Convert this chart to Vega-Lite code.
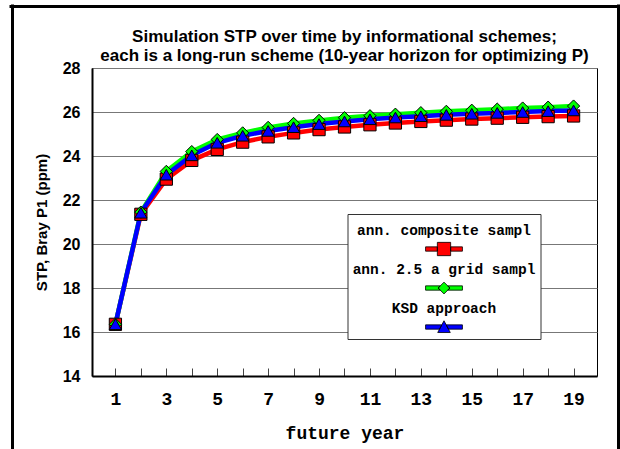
{
  "$schema": "https://vega.github.io/schema/vega-lite/v6.json",
  "width": 505,
  "height": 308,
  "autosize": {"type": "none"},
  "padding": {"left": 92, "top": 68, "right": 23, "bottom": 73},
  "background": "white",
  "title": {
    "text": ["Simulation STP over time by informational schemes;", "each is a long-run scheme (10-year horizon for optimizing P)"],
    "font": "Liberation Sans",
    "fontSize": 17,
    "fontWeight": "bold",
    "color": "black",
    "anchor": "middle",
    "frame": "group",
    "lineHeight": 18.5,
    "offset": -62
  },
  "data": {
    "values": [
      {"year": 1, "series": "ann. composite sampl", "stp": 16.35},
      {"year": 2, "series": "ann. composite sampl", "stp": 21.35},
      {"year": 3, "series": "ann. composite sampl", "stp": 22.95},
      {"year": 4, "series": "ann. composite sampl", "stp": 23.8},
      {"year": 5, "series": "ann. composite sampl", "stp": 24.3},
      {"year": 6, "series": "ann. composite sampl", "stp": 24.63},
      {"year": 7, "series": "ann. composite sampl", "stp": 24.87},
      {"year": 8, "series": "ann. composite sampl", "stp": 25.05},
      {"year": 9, "series": "ann. composite sampl", "stp": 25.2},
      {"year": 10, "series": "ann. composite sampl", "stp": 25.32},
      {"year": 11, "series": "ann. composite sampl", "stp": 25.42},
      {"year": 12, "series": "ann. composite sampl", "stp": 25.5},
      {"year": 13, "series": "ann. composite sampl", "stp": 25.57},
      {"year": 14, "series": "ann. composite sampl", "stp": 25.63},
      {"year": 15, "series": "ann. composite sampl", "stp": 25.68},
      {"year": 16, "series": "ann. composite sampl", "stp": 25.72},
      {"year": 17, "series": "ann. composite sampl", "stp": 25.76},
      {"year": 18, "series": "ann. composite sampl", "stp": 25.79},
      {"year": 19, "series": "ann. composite sampl", "stp": 25.82},
      {"year": 1, "series": "ann. 2.5 a grid sampl", "stp": 16.35},
      {"year": 2, "series": "ann. 2.5 a grid sampl", "stp": 21.45},
      {"year": 3, "series": "ann. 2.5 a grid sampl", "stp": 23.3},
      {"year": 4, "series": "ann. 2.5 a grid sampl", "stp": 24.2},
      {"year": 5, "series": "ann. 2.5 a grid sampl", "stp": 24.75},
      {"year": 6, "series": "ann. 2.5 a grid sampl", "stp": 25.05},
      {"year": 7, "series": "ann. 2.5 a grid sampl", "stp": 25.3},
      {"year": 8, "series": "ann. 2.5 a grid sampl", "stp": 25.48},
      {"year": 9, "series": "ann. 2.5 a grid sampl", "stp": 25.62},
      {"year": 10, "series": "ann. 2.5 a grid sampl", "stp": 25.74},
      {"year": 11, "series": "ann. 2.5 a grid sampl", "stp": 25.83},
      {"year": 12, "series": "ann. 2.5 a grid sampl", "stp": 25.9},
      {"year": 13, "series": "ann. 2.5 a grid sampl", "stp": 25.97},
      {"year": 14, "series": "ann. 2.5 a grid sampl", "stp": 26.03},
      {"year": 15, "series": "ann. 2.5 a grid sampl", "stp": 26.08},
      {"year": 16, "series": "ann. 2.5 a grid sampl", "stp": 26.13},
      {"year": 17, "series": "ann. 2.5 a grid sampl", "stp": 26.18},
      {"year": 18, "series": "ann. 2.5 a grid sampl", "stp": 26.22},
      {"year": 19, "series": "ann. 2.5 a grid sampl", "stp": 26.27},
      {"year": 1, "series": "KSD approach", "stp": 16.35},
      {"year": 2, "series": "KSD approach", "stp": 21.42},
      {"year": 3, "series": "KSD approach", "stp": 23.15},
      {"year": 4, "series": "KSD approach", "stp": 24.03},
      {"year": 5, "series": "KSD approach", "stp": 24.6},
      {"year": 6, "series": "KSD approach", "stp": 24.92},
      {"year": 7, "series": "KSD approach", "stp": 25.14},
      {"year": 8, "series": "KSD approach", "stp": 25.31},
      {"year": 9, "series": "KSD approach", "stp": 25.45},
      {"year": 10, "series": "KSD approach", "stp": 25.57},
      {"year": 11, "series": "KSD approach", "stp": 25.67},
      {"year": 12, "series": "KSD approach", "stp": 25.75},
      {"year": 13, "series": "KSD approach", "stp": 25.81},
      {"year": 14, "series": "KSD approach", "stp": 25.87},
      {"year": 15, "series": "KSD approach", "stp": 25.92},
      {"year": 16, "series": "KSD approach", "stp": 25.96},
      {"year": 17, "series": "KSD approach", "stp": 26.0},
      {"year": 18, "series": "KSD approach", "stp": 26.04},
      {"year": 19, "series": "KSD approach", "stp": 26.07}
    ]
  },
  "layer": [
    {
      "transform": [{"filter": "datum.series === 'ann. composite sampl'"}],
      "mark": {"type": "line", "color": "#FF0000", "strokeWidth": 4.5, "strokeJoin": "round", "strokeCap": "round"},
      "encoding": {
        "x": {"field": "year", "type": "quantitative", "scale": {"domain": [0.08, 19.92], "nice": false, "zero": false}, "axis": null},
        "y": {"field": "stp", "type": "quantitative", "scale": {"domain": [14, 28], "nice": false, "zero": false}, "axis": null}
      }
    },
    {
      "transform": [{"filter": "datum.series === 'ann. 2.5 a grid sampl'"}],
      "mark": {"type": "line", "color": "#00FF00", "strokeWidth": 4.5, "strokeJoin": "round", "strokeCap": "round"},
      "encoding": {
        "x": {"field": "year", "type": "quantitative", "axis": null},
        "y": {"field": "stp", "type": "quantitative", "axis": null}
      }
    },
    {
      "transform": [{"filter": "datum.series === 'KSD approach'"}],
      "mark": {"type": "line", "color": "#0000FF", "strokeWidth": 4.5, "strokeJoin": "round", "strokeCap": "round"},
      "encoding": {
        "x": {"field": "year", "type": "quantitative", "axis": null},
        "y": {"field": "stp", "type": "quantitative", "axis": null}
      }
    },
    {
      "transform": [{"filter": "datum.series === 'ann. composite sampl'"}],
      "mark": {"type": "point", "shape": "square", "filled": true, "fill": "#FF0000", "opacity": 1, "size": 150, "stroke": "black", "strokeWidth": 1},
      "encoding": {
        "x": {
          "field": "year", "type": "quantitative",
          "axis": {
            "orient": "bottom",
            "values": [1, 2, 3, 4, 5, 6, 7, 8, 9, 10, 11, 12, 13, 14, 15, 16, 17, 18, 19],
            "labelExpr": "datum.value % 2 === 1 ? datum.label : ''",
            "labelFlush": false,
            "labelOverlap": false,
            "grid": false,
            "ticks": true,
            "tickSize": -8,
            "tickColor": "#444444",
            "tickWidth": 1,
            "domainColor": "black",
            "domainWidth": 2,
            "labelFont": "Liberation Mono",
            "labelFontSize": 18,
            "labelFontWeight": "bold",
            "labelColor": "black",
            "labelPadding": 22,
            "title": "future year",
            "titleFont": "Liberation Mono",
            "titleFontSize": 18,
            "titleFontWeight": "bold",
            "titleColor": "black",
            "titlePadding": 16
          }
        },
        "y": {
          "field": "stp", "type": "quantitative",
          "axis": {
            "orient": "left",
            "values": [14, 16, 18, 20, 22, 24, 26, 28],
            "grid": true,
            "gridColor": "#777777",
            "gridWidth": 1,
            "ticks": false,
            "domainColor": "black",
            "domainWidth": 2,
            "labelFont": "Liberation Sans",
            "labelFontSize": 16,
            "labelFontWeight": "bold",
            "labelColor": "black",
            "labelPadding": 12,
            "title": "STP, Bray P1 (ppm)",
            "titleFont": "Liberation Sans",
            "titleFontSize": 15,
            "titleFontWeight": "bold",
            "titleColor": "black",
            "titlePadding": 13
          }
        }
      }
    },
    {
      "transform": [{"filter": "datum.series === 'ann. 2.5 a grid sampl'"}],
      "mark": {"type": "point", "shape": "diamond", "filled": true, "fill": "#00FF00", "opacity": 1, "size": 150, "stroke": "black", "strokeWidth": 1},
      "encoding": {
        "x": {"field": "year", "type": "quantitative", "axis": null},
        "y": {"field": "stp", "type": "quantitative", "axis": null}
      }
    },
    {
      "transform": [{"filter": "datum.series === 'KSD approach'"}],
      "mark": {"type": "point", "shape": "triangle-up", "filled": true, "fill": "#0000FF", "opacity": 1, "size": 150, "stroke": "black", "strokeWidth": 1},
      "encoding": {
        "x": {"field": "year", "type": "quantitative", "axis": null},
        "y": {"field": "stp", "type": "quantitative", "axis": null}
      }
    },
    {
      "mark": {"type": "point", "filled": true, "opacity": 0, "stroke": "black", "strokeWidth": 0.8},
      "encoding": {
        "x": {"field": "year", "type": "quantitative", "axis": null},
        "y": {"field": "stp", "type": "quantitative", "axis": null},
        "color": {
          "field": "series", "type": "nominal",
          "scale": {"domain": ["ann. composite sampl", "ann. 2.5 a grid sampl", "KSD approach"], "range": ["#FF0000", "#00FF00", "#0000FF"]}
        },
        "shape": {
          "field": "series", "type": "nominal",
          "scale": {
            "domain": ["ann. composite sampl", "ann. 2.5 a grid sampl", "KSD approach"],
            "range": [
              "M-0.97,0.467H-0.35V0.693H-0.97Z M0.35,0.467H0.97V0.693H0.35Z M-0.35,0.23H0.35V0.93H-0.35Z",
              "M-0.97,0.467H-0.197L-0.31,0.58L-0.197,0.693H-0.97Z M0.97,0.467H0.197L0.31,0.58L0.197,0.693H0.97Z M0,0.27L0.31,0.58L0,0.89L-0.31,0.58Z",
              "M-0.97,0.467H-0.1155L-0.2358,0.693H-0.97Z M0.97,0.467H0.1155L0.2358,0.693H0.97Z M0,0.25L0.33,0.87H-0.33Z"
            ]
          },
          "legend": {
            "title": null,
            "orient": "none",
            "legendX": 255.5,
            "legendY": 146,
            "padding": 4.5,
            "rowPadding": -9.5,
            "fillColor": "white",
            "strokeColor": "#333333",
            "labelFont": "Liberation Mono",
            "labelFontSize": 14.5,
            "labelFontWeight": "bold",
            "labelColor": "black",
            "labelLimit": 400,
            "labelAlign": "center",
            "labelBaseline": "bottom",
            "labelOffset": -19.5,
            "symbolOffset": 72.5,
            "symbolSize": 1444,
            "symbolOpacity": 1,
            "symbolStrokeColor": "black",
            "symbolStrokeWidth": 0.8
          }
        }
      }
    },
    {
      "mark": {"type": "point", "opacity": 0},
      "encoding": {
        "x": {
          "field": "year", "type": "quantitative",
          "axis": {
            "orient": "bottom",
            "offset": 80,
            "values": [0.1],
            "tickOffset": -81,
            "domain": false,
            "labels": false,
            "grid": false,
            "ticks": true,
            "tickSize": -452,
            "tickWidth": 3,
            "tickColor": "black",
            "title": null
          }
        },
        "y": {
          "field": "stp", "type": "quantitative",
          "axis": {
            "orient": "right",
            "offset": 21,
            "values": [27.9],
            "tickOffset": -64.7,
            "domain": false,
            "labels": false,
            "grid": false,
            "ticks": true,
            "tickSize": -609,
            "tickWidth": 3,
            "tickColor": "black",
            "title": null
          }
        }
      }
    },
    {
      "mark": {"type": "point", "opacity": 0},
      "encoding": {
        "x": {
          "field": "year", "type": "quantitative",
          "axis": {
            "orient": "bottom",
            "offset": 80,
            "values": [19.9],
            "tickOffset": 21.5,
            "domain": false,
            "labels": false,
            "grid": false,
            "ticks": true,
            "tickSize": -452,
            "tickWidth": 3,
            "tickColor": "black",
            "title": null
          }
        },
        "y": {"field": "stp", "type": "quantitative", "axis": null}
      }
    }
  ],
  "resolve": {"axis": {"x": "independent", "y": "independent"}},
  "config": {
    "view": {"stroke": "black", "strokeWidth": 1}
  }
}
